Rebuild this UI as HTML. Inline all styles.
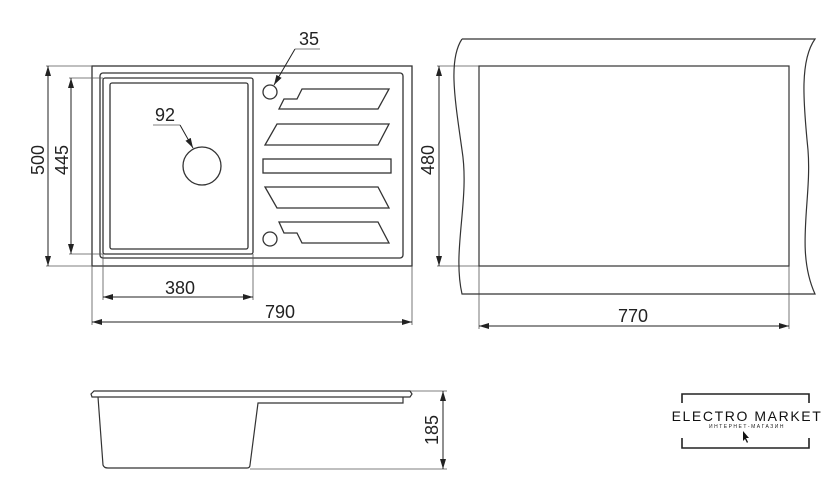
<!DOCTYPE html>
<html><head><meta charset="utf-8"><style>
html,body{margin:0;padding:0;background:#fff;width:840px;height:497px;overflow:hidden}
svg{display:block}
text{font-family:"Liberation Sans",sans-serif;fill:#222}
</style></head><body>
<svg width="840" height="497" viewBox="0 0 840 497" xmlns="http://www.w3.org/2000/svg">
<defs>
<marker id="a" viewBox="0 0 10 6" refX="10" refY="3" markerWidth="10" markerHeight="6" orient="auto-start-reverse" markerUnits="userSpaceOnUse"><path d="M0,0 L10,3 L0,6 z" fill="#222"/></marker>
</defs>
<g fill="none" stroke="#333" stroke-width="1.3">
<rect x="92" y="66" width="320" height="200"/>
<rect x="100" y="73" width="303" height="185" rx="3"/>
<rect x="103" y="78" width="150" height="176" rx="2"/>
<rect x="110" y="83" width="138" height="166" rx="2"/>
<circle cx="202" cy="166" r="19"/>
<circle cx="270" cy="92" r="7"/>
<circle cx="270" cy="239" r="7"/>
<polygon points="302,89 389,89 378,109 279,109 284,99 297,99"/>
<polygon points="277,124 389,124 378,145 265,145"/>
<rect x="263" y="159" width="128" height="14"/>
<polygon points="265,187 378,187 389,208 277,208"/>
<polygon points="279,222 378,222 389,243 302,243 297,233 284,233"/>
</g>
<g fill="none" stroke="#555" stroke-width="0.8">
<line x1="46" y1="66" x2="92" y2="66"/><line x1="46" y1="266" x2="92" y2="266"/>
<line x1="69" y1="78" x2="103" y2="78"/><line x1="69" y1="254" x2="103" y2="254"/>
<line x1="103" y1="254" x2="103" y2="300"/><line x1="253" y1="254" x2="253" y2="300"/>
<line x1="92" y1="266" x2="92" y2="325"/><line x1="412" y1="266" x2="412" y2="325"/>
<line x1="295" y1="49" x2="320" y2="49"/><line x1="153" y1="125" x2="180" y2="125"/>
<line x1="437" y1="66" x2="479" y2="66"/><line x1="437" y1="266" x2="479" y2="266"/>
<line x1="479" y1="266" x2="479" y2="329"/><line x1="789" y1="266" x2="789" y2="329"/>
<line x1="410" y1="391" x2="447" y2="391"/><line x1="250" y1="469" x2="447" y2="469"/>
</g>
<g stroke="#222" stroke-width="1" marker-start="url(#a)" marker-end="url(#a)">
<line x1="48" y1="66" x2="48" y2="266"/>
<line x1="71" y1="78" x2="71" y2="254"/>
<line x1="103" y1="297" x2="253" y2="297"/>
<line x1="92" y1="322" x2="412" y2="322"/>
<line x1="439" y1="66" x2="439" y2="266"/>
<line x1="479" y1="326" x2="789" y2="326"/>
<line x1="443" y1="391" x2="443" y2="469"/>
</g>
<g stroke="#222" stroke-width="1" marker-end="url(#a)">
<line x1="295" y1="49" x2="274" y2="85"/>
<line x1="180" y1="125" x2="193" y2="148"/>
</g>
<text x="309" y="45" font-size="18" text-anchor="middle">35</text>
<text x="165" y="121" font-size="18" text-anchor="middle">92</text>
<text x="180" y="294" font-size="18" text-anchor="middle">380</text>
<text x="280" y="318" font-size="18" text-anchor="middle">790</text>
<text x="633" y="322" font-size="18" text-anchor="middle">770</text>
<text transform="translate(44,160) rotate(-90)" font-size="18" text-anchor="middle">500</text>
<text transform="translate(68,160) rotate(-90)" font-size="18" text-anchor="middle">445</text>
<text transform="translate(434,160) rotate(-90)" font-size="18" text-anchor="middle">480</text>
<text transform="translate(438,430) rotate(-90)" font-size="18" text-anchor="middle">185</text>
<g fill="none" stroke="#333" stroke-width="1.2">
<path d="M462,39 L815,39 C800,60 803,100 808,150 C812,200 795,250 815,294 L462,294 C452,250 470,200 462,150 C455,100 448,60 462,39"/>
<rect x="479" y="66" width="310" height="200"/>
</g>
<g fill="none" stroke="#333" stroke-width="1.2">
<path d="M94,391 L410,391 L412,394 L410,397 L92,397 L91,394 Z"/>
<path d="M98,397 L103,465 Q104,468 108,468 L247,468 Q250,468 250,465 L258,403 L403,403 L403,397"/>
</g>
<g fill="none" stroke="#222" stroke-width="1.6">
<path d="M682,403 L682,394 L809,394 L809,403"/>
<path d="M682,438 L682,448 L809,448 L809,438"/>
</g>
<rect x="667" y="407" width="160" height="22" fill="#fff"/>
<text x="747" y="421" font-size="14" text-anchor="middle" letter-spacing="1.6" style="fill:#111">ELECTRO MARKET</text>
<text x="747" y="428" font-size="5" text-anchor="middle" letter-spacing="1.5">ИНТЕРНЕТ-МАГАЗИН</text>
<path d="M743,431 L743,441 L745,439 L747,443 L748,442 L746,438 L749,438 Z" fill="#111"/>
</svg>
</body></html>
